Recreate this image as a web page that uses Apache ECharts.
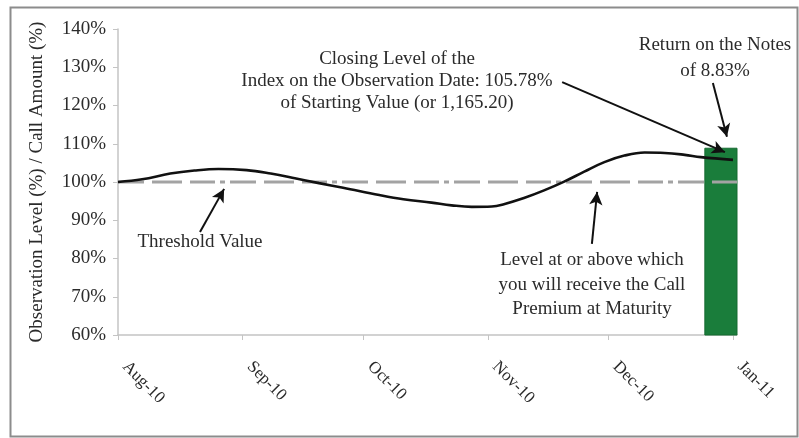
<!DOCTYPE html>
<html>
<head>
<meta charset="utf-8">
<script src="https://cdn.jsdelivr.net/npm/echarts@6/dist/echarts.min.js"></script>
<style>html,body{margin:0;padding:0;background:#fff}#c{width:799px;height:438px}</style>
</head>
<body>
<div id="c"></div>
<script>
// ---- data ----
const tickDates = ['2010-08-01','2010-09-01','2010-10-01','2010-11-01','2010-12-01','2011-01-01'];
const tickLabels = ['Aug-10','Sep-10','Oct-10','Nov-10','Dec-10','Jan-11'];
const axisStart = '2010-08-01';
const axisEnd = '2011-01-02';
const obsDates = ['2010-08-01','2010-08-07','2010-08-14','2010-08-20','2010-08-26','2010-09-02','2010-09-08','2010-09-14','2010-09-20','2010-09-26','2010-10-05','2010-10-11','2010-10-18','2010-10-23','2010-10-28','2010-11-02','2010-11-05','2010-11-10','2010-11-15','2010-11-20','2010-11-25','2010-11-30','2010-12-05','2010-12-10','2010-12-15','2010-12-20','2010-12-24','2011-01-01'];
const obsLevels = [100.0,100.7,102.2,103.0,103.4,103.1,102.2,101.0,99.7,98.5,96.6,95.5,94.6,93.9,93.5,93.6,94.2,95.8,97.8,100.1,102.7,105.2,106.9,107.7,107.6,107.1,106.5,105.78];
const thresholdLevel = 100;
const returnBarStart = '2010-12-25';
const returnBarEnd = '2011-01-02';
const returnBarValue = 108.83;
const yMin = 60, yMax = 140, yStep = 10;

const dayOf = s => Math.round((Date.parse(s) - Date.parse(axisStart)) / 86400000);
const tickDays = tickDates.map(dayOf);
const lineData = obsDates.map((d, i) => [dayOf(d), obsLevels[i]]);
const xMax = dayOf(axisEnd);

const serif = "'Liberation Serif','DejaVu Serif',serif";
const txt = '#2b2b2b';
const annFont = "19px 'Liberation Serif'";

const chart = echarts.init(document.getElementById('c'), null, {renderer: 'canvas'});

function arrow(x1, y1, x2, y2) {
  return [{coord: [x1, y1], symbol: 'none'}, {coord: [x2, y2], symbol: 'arrow', symbolSize: [10, 13]}];
}

chart.setOption({
  animation: false,
  backgroundColor: '#fff',
  grid: {left: 118, right: 62, top: 29, bottom: 103},
  xAxis: {
    type: 'value', min: 0, max: xMax,
    splitLine: {show: false},
    axisLine: {show: true, lineStyle: {color: '#c4c4c4', width: 1.5}},
    axisTick: {show: true, customValues: tickDays, length: 5, lineStyle: {color: '#c4c4c4'}},
    axisLabel: {
      customValues: tickDays, rotate: -45, margin: 22, padding: [0, 0, 0, 10],
      fontFamily: serif, fontSize: 17, color: txt,
      formatter: v => tickLabels[tickDays.indexOf(Math.round(v))] || ''
    }
  },
  yAxis: {
    type: 'value', min: yMin, max: yMax, interval: yStep,
    splitLine: {show: false},
    axisLine: {show: true, lineStyle: {color: '#c4c4c4', width: 1.5}},
    axisTick: {show: true, length: 5, lineStyle: {color: '#c4c4c4'}},
    axisLabel: {formatter: '{value}%', fontFamily: serif, fontSize: 19, color: txt, margin: 12},
    name: 'Observation Level (%) / Call Amount (%)',
    nameLocation: 'middle', nameGap: 71,
    nameTextStyle: {fontFamily: serif, fontSize: 19, color: txt}
  },
  series: [
    {
      type: 'custom', z: 1,
      data: [[dayOf(returnBarStart), dayOf(returnBarEnd), returnBarValue]],
      renderItem: (params, api) => {
        const p1 = api.coord([api.value(0), api.value(2)]);
        const p2 = api.coord([api.value(1), yMin]);
        return {type: 'rect', shape: {x: p1[0], y: p1[1], width: p2[0] - p1[0], height: p2[1] - p1[1]},
          style: {fill: '#1a7d3b', stroke: '#156a31', lineWidth: 1}};
      }
    },
    {
      type: 'line', z: 2, symbol: 'none', silent: true,
      data: [[0, thresholdLevel], [xMax, thresholdLevel]],
      lineStyle: {color: '#a3a3a3', width: 3, type: [26, 8, 30, 8, 25, 5, 5, 5]}
    },
    {
      type: 'line', z: 3, symbol: 'none', smooth: 0.4,
      data: lineData,
      lineStyle: {color: '#111', width: 2.6},
      markLine: {
        silent: true, symbol: ['none', 'arrow'],
        lineStyle: {color: '#111', width: 2, type: 'solid'},
        label: {show: false},
        data: [
          arrow(20.4, 86.9, 26.4, 98.2),
          arrow(117.9, 83.8, 119.2, 97.4),
          arrow(110.5, 126.1, 151.0, 107.8),
          arrow(148.0, 125.9, 151.5, 111.8)
        ]
      }
    }
  ],
  graphic: [
    {type: 'rect', left: 8, top: 5, shape: {width: 787, height: 429}, style: {fill: 'none', stroke: '#8c8c8c', lineWidth: 2}, z: 100},
    {type: 'text', x: 397, y: 81, style: {text: 'Closing Level of the\nIndex on the Observation Date: 105.78%\nof Starting Value (or 1,165.20)', font: annFont, fill: txt, align: 'center', verticalAlign: 'middle', lineHeight: 22}},
    {type: 'text', x: 715, y: 58, style: {text: 'Return on the Notes\nof 8.83%', font: annFont, fill: txt, align: 'center', verticalAlign: 'middle', lineHeight: 26}},
    {type: 'text', x: 200, y: 242, style: {text: 'Threshold Value', font: annFont, fill: txt, align: 'center', verticalAlign: 'middle'}},
    {type: 'text', x: 592, y: 285, style: {text: 'Level at or above which\nyou will receive the Call\nPremium at Maturity', font: annFont, fill: txt, align: 'center', verticalAlign: 'middle', lineHeight: 24.5}}
  ]
});
</script>
</body>
</html>
